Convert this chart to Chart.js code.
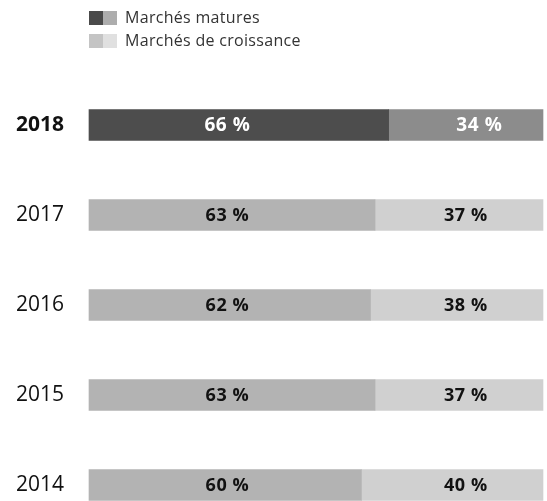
<!DOCTYPE html>
<html lang="fr">
<head>
<meta charset="utf-8">
<script src="https://cdn.jsdelivr.net/npm/chart.js@4/dist/chart.umd.min.js"></script>
<style>
  html, body { margin: 0; padding: 0; background: #fff; overflow: hidden; }
  #wrap { width: 547px; height: 501px; position: relative; }
</style>
</head>
<body>
<div id="wrap"><canvas id="chart" width="547" height="501"></canvas></div>
<script>
// Répartition du chiffre d'affaires par type de marché (en %)
const years = ['2018', '2017', '2016', '2015', '2014'];
const matureShare = [66, 63, 62, 63, 60];
const growthShare = [34, 37, 38, 37, 40];
const seriesNames = ['Marchés matures', 'Marchés de croissance'];

const FONT = "'Open Sans', 'Noto Sans', sans-serif";

// current year is highlighted in darker tones
const matureColors = years.map((y, i) => i === 0 ? '#4d4d4d' : '#b3b3b3');
const growthColors = years.map((y, i) => i === 0 ? '#8c8c8c' : '#d0d0d0');

// two-tone legend swatches drawn above the bars
const legendPlugin = {
  id: 'twoToneLegend',
  afterDraw(chart) {
    const ctx = chart.ctx;
    const rows = [
      { y: 11, colors: ['#4a4a4a', '#adadad'], text: seriesNames[0] },
      { y: 34, colors: ['#c4c4c4', '#e0e0e0'], text: seriesNames[1] }
    ];
    ctx.save();
    rows.forEach(r => {
      ctx.fillStyle = r.colors[0];
      ctx.fillRect(89, r.y, 14, 14);
      ctx.fillStyle = r.colors[1];
      ctx.fillRect(103, r.y, 14, 14);
      ctx.fillStyle = '#333333';
      ctx.font = '16px ' + FONT;
      ctx.letterSpacing = '0.3px';
      ctx.textAlign = 'left';
      ctx.textBaseline = 'middle';
      ctx.fillText(r.text, 125, r.y + 7);
    });
    ctx.restore();
  }
};

// percentage labels: one column for mature markets, one for growth markets
const labelColumns = [30.5, 83];
const valueLabels = {
  id: 'valueLabels',
  afterDatasetsDraw(chart) {
    const ctx = chart.ctx;
    const xs = chart.scales.x;
    ctx.save();
    ctx.textAlign = 'center';
    ctx.textBaseline = 'middle';
    ctx.letterSpacing = '0.6px';
    chart.data.datasets.forEach((ds, di) => {
      const meta = chart.getDatasetMeta(di);
      meta.data.forEach((bar, i) => {
        const first = i === 0;
        ctx.font = 'bold ' + (first ? 19 : 18) + 'px ' + FONT;
        ctx.fillStyle = first ? '#ffffff' : '#111111';
        const col = labelColumns[di] + (first && di === 1 ? 3 : 0);
        ctx.fillText(ds.data[i] + ' %', xs.getPixelForValue(col), bar.y + 1);
      });
    });
    ctx.restore();
  }
};

new Chart(document.getElementById('chart'), {
  type: 'bar',
  data: {
    labels: years,
    datasets: [
      { label: seriesNames[0], data: matureShare, backgroundColor: matureColors, barThickness: 31, clip: false },
      { label: seriesNames[1], data: growthShare, backgroundColor: growthColors, barThickness: 31, clip: false }
    ]
  },
  options: {
    indexAxis: 'y',
    responsive: false,
    animation: false,
    layout: { padding: { top: 125, bottom: 16, left: 16, right: 4 } },
    scales: {
      x: { stacked: true, min: 0, max: 100, display: false },
      y: {
        stacked: true,
        offset: false,
        grid: { display: false },
        border: { display: false },
        afterFit(scale) { scale.width = 73; },
        ticks: {
          crossAlign: 'far',
          padding: 0,
          color: '#111111',
          font: ctx => ({ family: FONT, size: 21, weight: ctx.index === 0 ? 'bold' : 'normal' })
        }
      }
    },
    plugins: {
      legend: { display: false },
      tooltip: { enabled: false }
    }
  },
  plugins: [legendPlugin, valueLabels]
});
</script>
</body>
</html>
